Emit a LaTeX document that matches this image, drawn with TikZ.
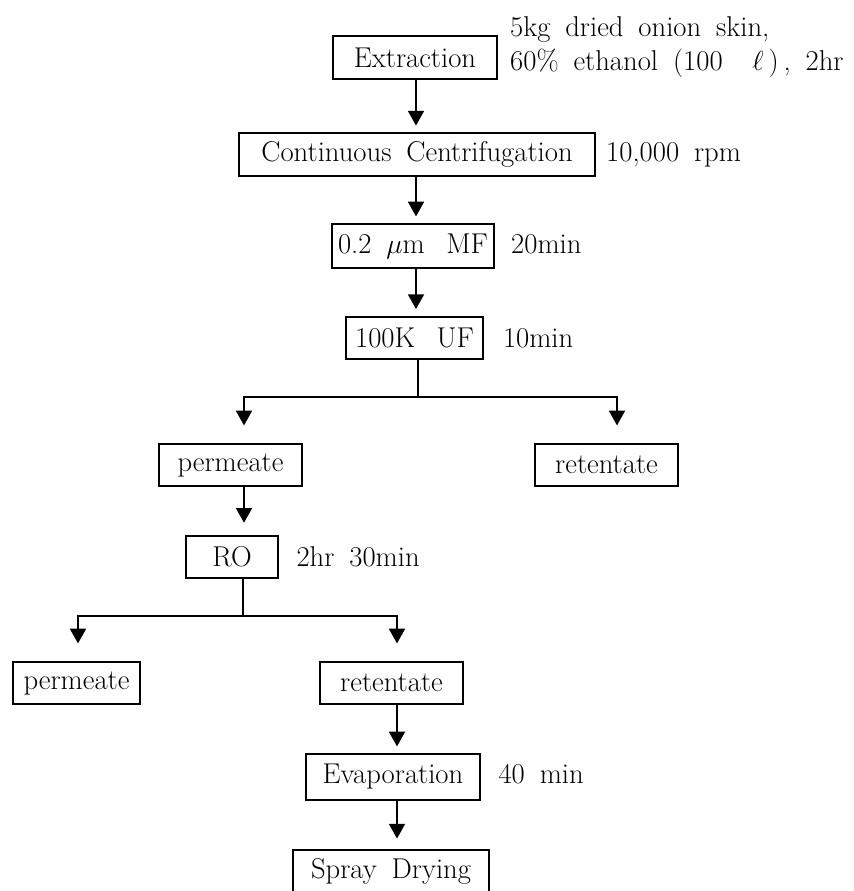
\documentclass[tikz,border=0pt]{standalone}
\usepackage{fontspec}
\usepackage{tikz}
\usetikzlibrary{arrows.meta,positioning}

\newcommand{\flowfont}{\fontsize{21.5}{25.5}\selectfont\spaceskip=0.52em plus 0.1em minus 0.05em\relax}

\begin{document}
\begin{tikzpicture}[
    x=0.75pt, y=-0.75pt,
    box/.style={draw, line width=1.4pt, rectangle, minimum height=32pt, inner sep=2pt, align=center, font=\flowfont},
    note/.style={inner sep=0pt, align=left, font=\flowfont},
    line/.style={line width=1.1pt},
    arrow/.style={line width=1.1pt, -{Triangle[width=12pt,length=11pt]}, shorten >=5pt},
    split/.style={shorten >=13pt}
]
    \useasboundingbox (0,0) rectangle (853,891);
    \clip (0,0) rectangle (853,891);

    % Draw nodes
    \node (ext) [box, minimum width=123pt] at (415,57.5) {Extraction};
    \node (cc) [box, minimum width=267pt] at (417,154.5) {Continuous Centrifugation};
    \node (mf) [box, minimum width=121.5pt, minimum height=33pt] at (413,246) {0.2 $\mu$m\hspace{0.75em}MF};
    \node (uf) [box, minimum width=103pt] at (414.5,338) {100K\hspace{0.75em}UF};
    \node (perm1) [box, minimum width=107pt] at (230.5,465) {permeate};
    \node (ret1) [box, minimum width=107pt] at (606.5,465) {retentate};
    \node (ro) [box, minimum width=69pt] at (232,557) {RO};
    \node (perm2) [box, minimum width=95pt] at (76.5,683) {permeate};
    \node (ret2) [box, minimum width=107pt] at (391.5,683) {retentate};
    \node (evap) [box, minimum width=130.5pt, minimum height=34.5pt] at (393,777) {Evaporation};
    \node (spray) [box, minimum width=147pt] at (391,871.5) {Spray Drying};

    % Draw conditions
    \node (extnote) [note, right=9pt of ext, yshift=8pt] {5kg dried onion skin,\\60\% ethanol\ (100\ \ $\ell$\,)\,, 2hr};
    \node (ccnote) [note, base right=7.5pt of cc] {10,000 rpm};
    \node (mfnote) [note, base right=12pt of mf] {20min};
    \node (ufnote) [note, base right=14pt of uf] {10min};
    \node (ronote) [note, base right=13pt of ro] {2hr 30min};
    \node (evnote) [note, base right=13pt of evap] {40 min};

    % Junctions
    \coordinate (c0) at (416,0);
    \coordinate (j1) at (418,397);
    \coordinate (c1l) at (244,397);
    \coordinate (c1r) at (617,397);
    \coordinate (j2) at (243,616);
    \coordinate (c2l) at (78,616);
    \coordinate (c2r) at (397,616);

    % Draw connections
    \draw [arrow] (ext.south -| c0) -- (c0 |- cc.north);
    \draw [arrow] (cc.south -| c0) -- (c0 |- mf.north);
    \draw [arrow] (mf.south -| c0) -- (c0 |- uf.north);
    \draw [line] (uf.south -| j1) -- (j1);
    \draw [arrow, split] (j1) -| (c1l |- perm1.north);
    \draw [arrow, split] (j1) -| (c1r |- ret1.north);
    \draw [arrow, shorten >=9pt] (perm1.south -| c1l) -- (c1l |- ro.north);
    \draw [line] (ro.south -| j2) -- (j2);
    \draw [arrow, split] (j2) -| (c2l |- perm2.north);
    \draw [arrow, split] (j2) -| (c2r |- ret2.north);
    \draw [arrow] (ret2.south -| c2r) -- (c2r |- evap.north);
    \draw [arrow, shorten >=8pt] (evap.south -| c2r) -- (c2r |- spray.north);

\end{tikzpicture}
\end{document}
